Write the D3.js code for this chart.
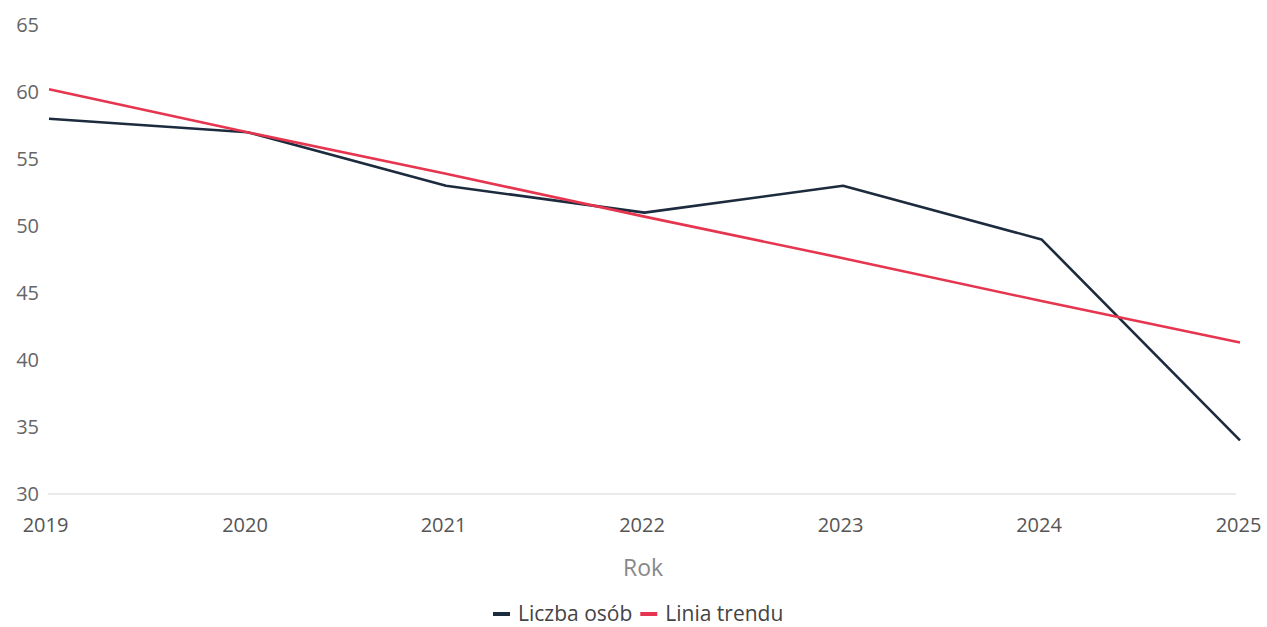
<!DOCTYPE html>
<html><head><meta charset="utf-8">
<script src="https://cdn.jsdelivr.net/npm/d3@7"></script>
<style>body{margin:0;background:#fff;font-family:"Open Sans",sans-serif;}</style>
</head><body>
<svg id="c" width="1267" height="627"></svg>
<script>
const years = [2019, 2020, 2021, 2022, 2023, 2024, 2025];
const liczbaOsob = [58, 57, 53, 51, 53, 49, 34];
const liniaTrendu = [60.2, 57.0, 53.9, 50.7, 47.6, 44.4, 41.3];
const yTicks = [30, 35, 40, 45, 50, 55, 60, 65];
const seriesNames = ["Liczba osób", "Linia trendu"];
const colors = ["#1c2b3d", "#e6354f"];

const svg = d3.select("#c");
const x = d3.scaleLinear().domain([2019, 2025]).range([49, 1240]);
const y = d3.scaleLinear().domain([30, 65]).range([494, 25]);

// baseline
svg.append("line").attr("x1", 48).attr("x2", 1236).attr("y1", y(30)).attr("y2", y(30))
  .attr("stroke", "#e3e3e3").attr("stroke-width", 1.5);

// y axis labels
const ya = svg.append("g").attr("transform", "translate(39,0)")
  .call(d3.axisLeft(y).tickValues(yTicks).tickSize(0).tickPadding(0));
ya.select(".domain").remove();
ya.selectAll("text").attr("font-family", "Open Sans").attr("font-size", 20).attr("fill", "#666");

// x axis labels
const xa = svg.append("g").attr("transform", "translate(0,518)")
  .call(d3.axisBottom(x).tickValues(years).tickFormat(d3.format("d")).tickSize(0).tickPadding(0));
xa.select(".domain").remove();
xa.selectAll("text").attr("font-family", "Open Sans").attr("font-size", 20).attr("fill", "#555")
  .attr("dx", (d,i)=> i===0 ? -4 : (i===years.length-1 ? -2 : -3));

svg.append("text").attr("x", 643).attr("y", 576).attr("text-anchor", "middle")
  .attr("font-size", 23).attr("fill", "#888").text("Rok");

const line = d3.line().x((d,i)=>x(years[i])).y(d=>y(d));
[liczbaOsob, liniaTrendu].forEach((s, k) => {
  svg.append("path").datum(s).attr("d", line).attr("fill", "none")
    .attr("stroke", colors[k]).attr("stroke-width", 2.6).attr("stroke-linejoin", "round");
});

// legend
const lg = svg.append("g").attr("transform", "translate(493,614)");
let off = 0;
seriesNames.forEach((n, k) => {
  lg.append("line").attr("x1", off).attr("x2", off + 17).attr("y1", 0).attr("y2", 0)
    .attr("stroke", colors[k]).attr("stroke-width", 4);
  const t = lg.append("text").attr("x", off + 25).attr("y", 7).attr("font-size", 21)
    .attr("fill", "#444").text(n);
  off += 25 + t.node().getComputedTextLength() + 8;
});
</script>
</body></html>
